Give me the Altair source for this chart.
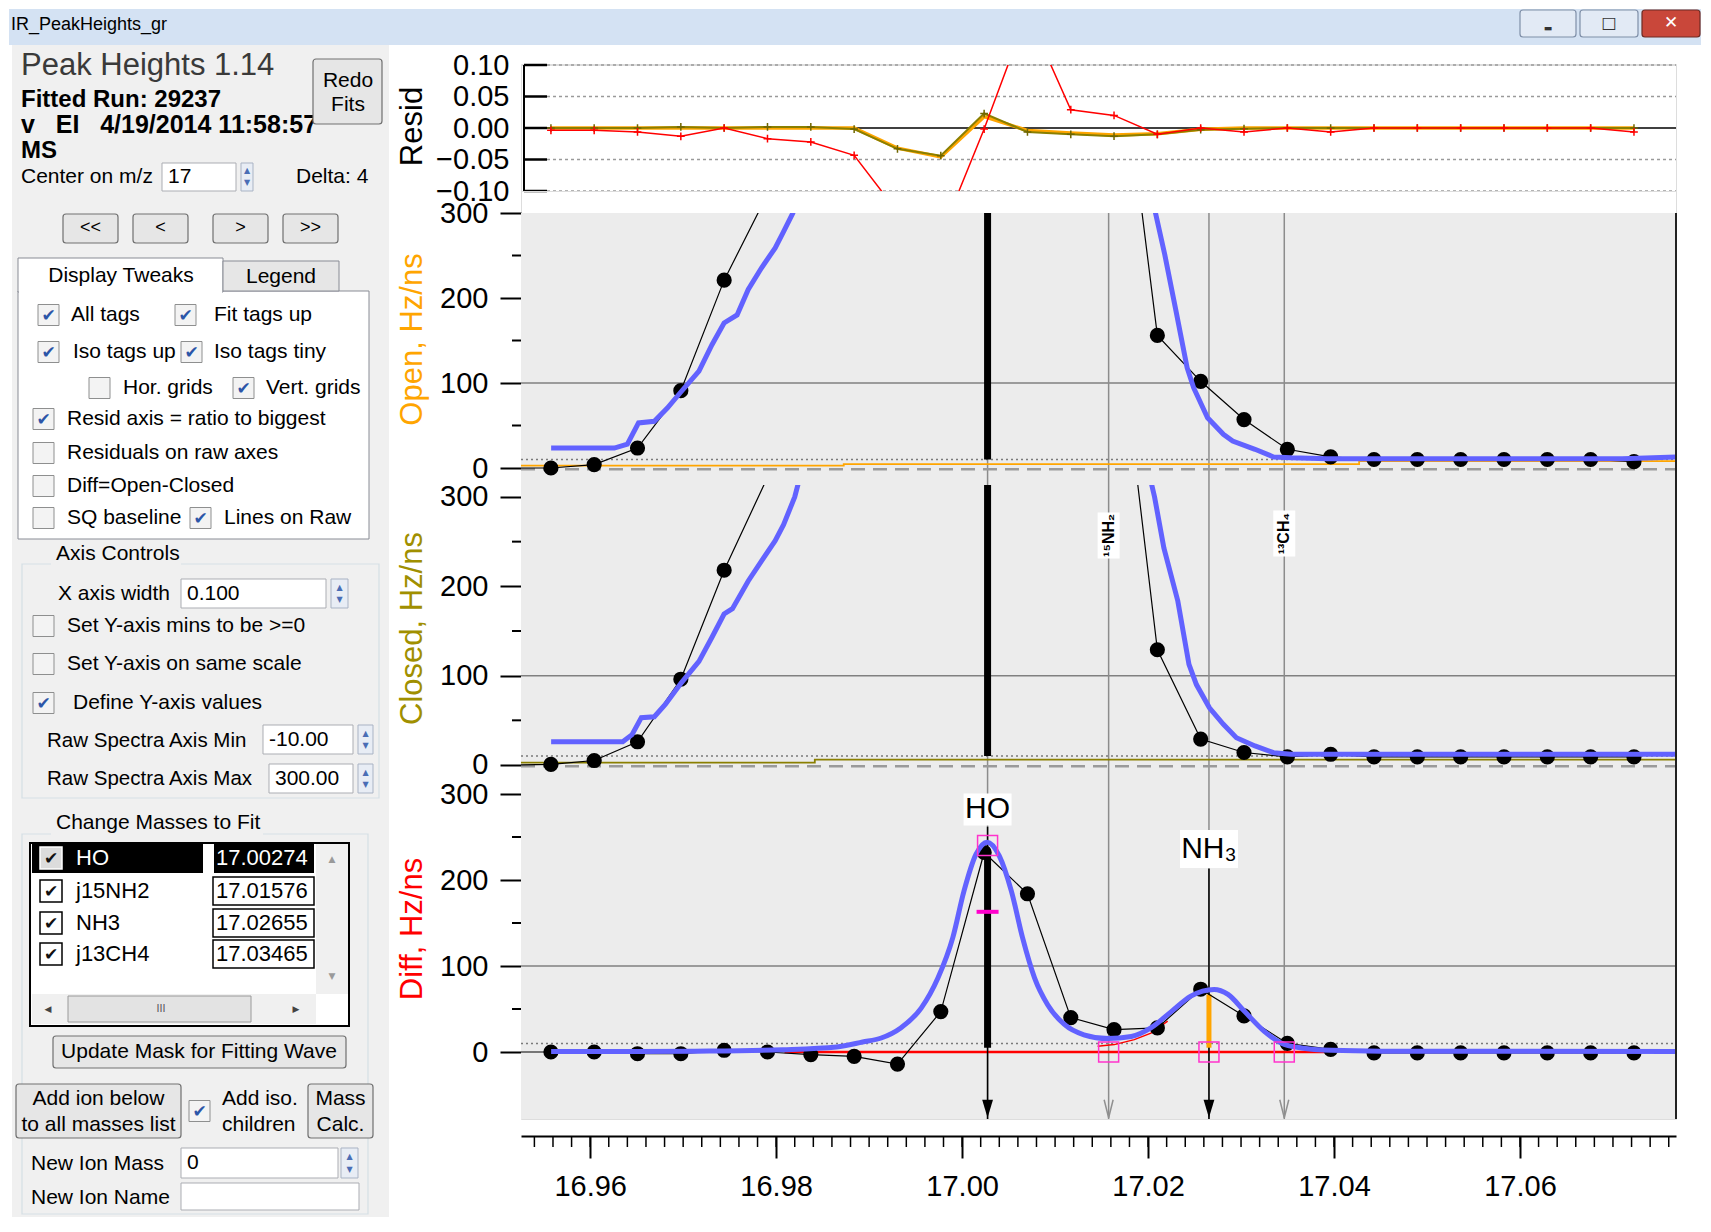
import altair as alt
import pandas as pd

FONT = "Liberation Sans"
GLYPH = "DejaVu Sans"

# ---------------- data ----------------
mz = [16.95578, 16.96043, 16.96509, 16.96975, 16.97441, 16.97907, 16.98373,
      16.98839, 16.99305, 16.99771, 17.00237, 17.00703, 17.01169, 17.01634,
      17.02100, 17.02566, 17.03032, 17.03498, 17.03964, 17.04430, 17.04896,
      17.05362, 17.05828, 17.06294, 17.06760, 17.07226]
mz_lead = 16.95112  # previous sample, just left of the window

open_raw = [0, 4, 23.5, 91, 221, 322, 700, 1400, 2200, 2600, 2700, 2300, 1300, 564,
            156, 102, 57, 22, 13, 10, 10, 10, 10, 10, 10, 7.5]
closed_raw = [0.7, 5, 26, 96, 218, 322, 703, 1405, 2214, 2553, 2468, 2116, 1260, 538,
              129, 29, 14, 9, 12, 9, 9, 9, 9, 9, 9, 9]
diff_raw = [0, 0, -2, -2, 2, 0, -3, -5, -14, 47, 232, 184, 40, 26,
            28, 73, 42, 10, 3, -1, -1, -1, -1, -1, -1, -1]

resid_diff = [-0.0037, -0.0037, -0.0063, -0.0132, 0.0, -0.0169, -0.0222, -0.0434, -0.133,
              -0.171, -0.0016, 0.183, 0.029, 0.020, -0.010, 0.0, -0.0063, 0.0, -0.0063,
              0.0, 0.0, 0.0, 0.0, 0.0, 0.0, -0.0063]
resid_closed = [0, 0, 0, 0.0016, 0, 0.0016, 0.0016, -0.0016, -0.033, -0.044, 0.023, -0.0063,
                -0.010, -0.013, -0.010, -0.0026, -0.001, 0, 0, 0, 0, 0, 0, 0, 0, 0]
resid_open = [0, 0, 0, 0, 0, 0, 0, 0, -0.032, -0.046, 0.018, -0.004, -0.008, -0.011,
              -0.009, -0.002, 0, 0, 0, 0, 0, 0, 0, 0, 0, 0]

open_fit_mz = [16.9558, 16.9626, 16.9640, 16.9652, 16.9669, 16.9683, 16.9698, 16.9717, 16.9731,
               16.9744, 16.9758, 16.9770, 16.9784, 16.9799, 16.9808, 16.9818, 16.9850, 16.9900,
               17.0000, 17.0100, 17.0180, 17.0208, 17.0218, 17.0230, 17.0242, 17.0249, 17.0264,
               17.0281, 17.0291, 17.0315, 17.0335, 17.0354, 17.0393, 17.0710, 17.0768]
open_fit = [23.5, 23.5, 28, 53, 55, 70.6, 90, 114, 145,
            170.6, 180, 210, 235, 259, 278, 300, 420, 900,
            2300, 1600, 420, 300, 251, 185, 118, 94.5, 59,
            39.6, 31.8, 22, 13, 12, 11, 11, 13]

closed_fit_mz = [16.9558, 16.9635, 16.9645, 16.9655, 16.9669, 16.9681, 16.9698, 16.9717, 16.9731,
                 16.9744, 16.9753, 16.9770, 16.9784, 16.9799, 16.9808, 16.9820, 16.9850, 16.9900,
                 17.0000, 17.0100, 17.0180, 17.0207, 17.0217, 17.0232, 17.0244, 17.0252, 17.0266,
                 17.0281, 17.0295, 17.0315, 17.0335, 17.0354, 17.0768]
closed_fit = [26, 26, 34, 53, 54, 68, 92, 116, 143,
              169, 175, 206, 228, 251, 269, 300, 420, 900,
              2300, 1600, 420, 300, 243, 183.6, 112.7, 90, 64,
              45.5, 30.6, 21.3, 13.8, 12, 12]

diff_fit_mz = [16.9558, 16.9650, 16.9712, 16.9807, 16.9865, 16.9893, 16.9913, 16.9934, 16.9956,
               16.9974, 16.9990, 17.0002, 17.0015, 17.0027, 17.0040, 17.0053, 17.0065, 17.0078,
               17.0092, 17.0110, 17.0131, 17.0157, 17.0182, 17.0203, 17.0225, 17.0246, 17.0271,
               17.0286, 17.0304, 17.0325, 17.0343, 17.0365, 17.0397, 17.0451, 17.0768]
diff_fit = [0.5, 0.5, 1, 2.7, 5.8, 11.6, 16.3, 28, 51,
            86, 133, 187, 230, 244, 228, 187, 133, 86,
            55, 32, 20, 15.6, 18, 28, 47, 65, 72.8,
            67, 47, 24, 10.5, 4.7, 2, 1, 0.5]

open_base_mz = [16.95256, 16.98727, 17.0427, 17.07678]
open_base = [2.7, 4.5, 8.0, 8.0]
closed_base_mz = [16.95256, 16.98416, 17.07678]
closed_base = [2.6, 6.0, 6.0]
dashed_level = -1.5
threshold = 10

red_base_mz = [16.9809, 17.0393]
red_base = [0, 0]
red_comp_mz = [17.01458, 17.01637, 17.01852, 17.02031, 17.02211]
red_comp = [6.6, 8.6, 14.4, 22, 36]

mass_mz = [17.00274, 17.01576, 17.02655, 17.03465]
mass_name = ["HO", "j15NH2", "NH3", "j13CH4"]
ho_mz, nh3_mz = 17.00274, 17.02655
iso_mz = [17.01576, 17.03465]
iso_tags = ["¹⁵NH₂", "¹³CH₄"]
iso_tag_y = [257, 259]
ho_fit_height = 235
nh3_fit_height = 67
ho_label_y = 282
nh3_label_y = 236
square_mz = [17.01576, 17.02655, 17.03465]
ho_square_y = 240
ho_dash_y = 163

x_major = [16.96, 16.98, 17.00, 17.02, 17.04, 17.06]
x_minor = [round(16.954 + 0.002 * i, 3) for i in range(62)]
y_major = [0, 100, 200, 300]
y_minor = [50, 150, 250]
resid_ticks = [-0.10, -0.05, 0.0, 0.05, 0.10]

# ---------------- layout ----------------
W = 1155
XS = alt.Scale(domain=[16.95256, 17.07678], nice=False, zero=False)
one = pd.DataFrame({"a": [0]})
BLUE = "#6262ff"


def ysc(dom):
    return alt.Scale(domain=dom, nice=False, zero=False)


def yaxis(title, color, ty, values, fmt=None, ticks=True):
    kw = dict(values=values, domain=False, grid=False, labelFont=FONT, labelFontSize=29,
              labelColor="black", labelFlush=False, labelOverlap=False,
              title=title, titleColor=color, titleFont=FONT, titleFontSize=31,
              titleFontWeight="normal", titleX=-100, titleY=ty, titleBaseline="alphabetic",
              titleAngle=270, titleAlign="center")
    if fmt:
        kw["format"] = fmt
    if ticks:
        kw.update(tickSize=21, tickWidth=2, tickColor="black", labelPadding=12)
    else:
        kw.update(ticks=False, tickSize=0, labelPadding=12)
    return alt.Axis(**kw)


# ---------------- resid panel ----------------
RH = 126
RY = alt.Y("v:Q", scale=ysc([-0.1, 0.1]),
           axis=yaxis("Resid", "black", 61, resid_ticks, fmt=".2f", ticks=False))
RX = alt.X("mz:Q", scale=XS, axis=None)
plus = "M-1,0L1,0M0,-1L0,1"

r_df = pd.DataFrame({"mz": mz, "red": resid_diff, "olive": resid_closed, "orange": resid_open})
resid = alt.layer(
    alt.Chart(pd.DataFrame({"v": [-0.1], "v2": [0.1]})).mark_rule(color="black", strokeWidth=2)
    .encode(x=alt.value(3), y=RY, y2="v2:Q"),
    alt.Chart(pd.DataFrame({"v": resid_ticks})).mark_rule(color="black", strokeWidth=2.5)
    .encode(x=alt.value(3), x2=alt.value(26), y=RY),
    alt.Chart(pd.DataFrame({"v": [-0.1, -0.05, 0.05, 0.1]}))
    .mark_rule(color="#9a9a9a", strokeWidth=1.5, strokeDash=[3, 3])
    .encode(x=alt.value(26), x2=alt.value(W), y=RY),
    alt.Chart(pd.DataFrame({"v": [0.0]})).mark_rule(color="black", strokeWidth=1.5)
    .encode(x=alt.value(3), x2=alt.value(W), y=RY),
    alt.Chart(r_df).transform_calculate(v="datum.orange")
    .mark_line(color="#ffa500", strokeWidth=3.5, clip=True).encode(x=RX, y=RY),
    alt.Chart(r_df).transform_calculate(v="datum.olive")
    .mark_line(color="#8a7f00", strokeWidth=2, clip=True).encode(x=RX, y=RY),
    alt.Chart(r_df).transform_calculate(v="datum.olive")
    .mark_point(shape=plus, size=60, strokeWidth=1.5, filled=False, color="#6f6600", opacity=1, clip=True)
    .encode(x=RX, y=RY),
    alt.Chart(r_df).transform_calculate(v="datum.red")
    .mark_line(color="#ff0000", strokeWidth=1.5, clip=True).encode(x=RX, y=RY),
    alt.Chart(r_df).transform_calculate(v="datum.red")
    .mark_point(shape=plus, size=60, strokeWidth=1.5, filled=False, color="#ff0000", opacity=1, clip=True)
    .encode(x=RX, y=RY),
).properties(width=W, height=RH)

spacer = alt.Chart(one).mark_point(opacity=0).encode(x=alt.value(0), y=alt.value(0)).properties(width=W, height=22)


# ---------------- gray panels ----------------
def common_layers(H, Yf, Xf):
    return [
        alt.Chart(one).mark_rect(color="#ececec")
        .encode(x=alt.value(0), x2=alt.value(W), y=alt.value(0), y2=alt.value(H)),
        alt.Chart(pd.DataFrame({"v": [100]})).mark_rule(color="#808080", strokeWidth=1.5)
        .encode(x=alt.value(0), x2=alt.value(W), y=Yf),
        alt.Chart(pd.DataFrame({"mz": mass_mz})).mark_rule(color="#8c8c8c", strokeWidth=1.5)
        .encode(x=Xf, y=alt.value(0), y2=alt.value(H)),
        alt.Chart(pd.DataFrame({"v": [threshold]}))
        .mark_rule(color="#7a7a7a", strokeWidth=1.5, strokeDash=[2, 3])
        .encode(x=alt.value(0), x2=alt.value(W), y=Yf),
    ]


def tail_layers(H, Yf):
    return [
        alt.Chart(pd.DataFrame({"v": y_minor})).mark_rule(color="black", strokeWidth=2)
        .encode(x=alt.value(-9), x2=alt.value(0), y=Yf),
        alt.Chart(one).mark_rule(color="#222222", strokeWidth=2)
        .encode(x=alt.value(W), y=alt.value(0), y2=alt.value(H)),
    ]


def raw_layers(raw, fit_mz, fit, Yf, Xf, interp):
    line_df = pd.DataFrame({"mz": [mz_lead] + mz, "v": [0] + raw})
    return [
        alt.Chart(line_df).mark_line(color="black", strokeWidth=1.2, clip=True).encode(x=Xf, y=Yf),
        alt.Chart(pd.DataFrame({"mz": mz, "v": raw}))
        .mark_circle(color="black", size=230, opacity=1, clip=True).encode(x=Xf, y=Yf),
        alt.Chart(pd.DataFrame({"mz": fit_mz, "v": fit}))
        .mark_line(color=BLUE, strokeWidth=5, clip=True, interpolate=interp).encode(x=Xf, y=Yf),
    ]


def raw_panel(H, dom, title, tcolor, ty, raw, fit_mz, fit, bmz, bval, bcolor, extra=None):
    Yf = alt.Y("v:Q", scale=ysc(dom), axis=yaxis(title, tcolor, ty, y_major))
    Xf = alt.X("mz:Q", scale=XS, axis=None)
    layers = common_layers(H, Yf, Xf)
    layers += [
        alt.Chart(pd.DataFrame({"v": [dashed_level]}))
        .mark_rule(color="#9a9a9a", strokeWidth=2.5, strokeDash=[14, 8])
        .encode(x=alt.value(0), x2=alt.value(W), y=Yf),
        alt.Chart(pd.DataFrame({"mz": bmz, "v": bval}))
        .mark_line(color=bcolor, strokeWidth=1.8, interpolate="step-after", clip=True).encode(x=Xf, y=Yf),
        alt.Chart(pd.DataFrame({"mz": [ho_mz], "v": [threshold], "v2": [3000]}))
        .mark_rule(color="black", strokeWidth=7, clip=True).encode(x=Xf, y=Yf, y2="v2:Q"),
    ]
    layers += raw_layers(raw, fit_mz, fit, Yf, Xf, "linear")
    if extra:
        layers += extra(Yf, Xf)
    layers += tail_layers(H, Yf)
    return alt.layer(*layers).properties(width=W, height=H)


def iso_tag_layers(Yf, Xf):
    df = pd.DataFrame({"mz": iso_mz, "v": iso_tag_y, "t": iso_tags})
    return [
        alt.Chart(df).mark_rect(color="white", xOffset=-11, x2Offset=11, yOffset=-23, y2Offset=23)
        .encode(x=Xf, x2="mz:Q", y=Yf, y2="v:Q"),
        alt.Chart(df).mark_text(angle=270, font=FONT, fontSize=16, fontWeight="bold", color="black")
        .encode(x=Xf, y=Yf, text="t:N"),
    ]


open_c = raw_panel(272, [-20, 300], "Open, Hz/ns", "#ffa500", 126, open_raw,
                   open_fit_mz, open_fit, open_base_mz, open_base, "#ffa500")
closed_c = raw_panel(298, [-20.15, 313.4], "Closed, Hz/ns", "#a08f00", 143, closed_raw,
                     closed_fit_mz, closed_fit, closed_base_mz, closed_base, "#8a7f00",
                     extra=iso_tag_layers)

# ---------------- diff panel ----------------
DH = 336
DY = alt.Y("v:Q", scale=ysc([-77.9, 312.8]), axis=yaxis("Diff, Hz/ns", "#ff0000", 145.5, y_major))
DX = alt.X("mz:Q", scale=XS, axis=alt.Axis(
    values=x_major, format=".2f", tickSize=22, tickWidth=2, tickColor="black",
    domainColor="black", domainWidth=2, offset=17, grid=False, labelFont=FONT,
    labelFontSize=29, labelColor="black", labelPadding=14, labelFlush=False, title=None))
arrow = "M-0.6,-1L0.6,-1L0,1Z"
varrow = "M-0.5,-1L0,1L0.5,-1"

d_layers = common_layers(DH, DY, DX)
d_layers += [
    alt.Chart(pd.DataFrame({"mz": red_base_mz, "v": red_base}))
    .mark_line(color="#ff0000", strokeWidth=2.5).encode(x=DX, y=DY),
    alt.Chart(pd.DataFrame({"mz": red_comp_mz, "v": red_comp}))
    .mark_line(color="#ff0000", strokeWidth=1.5).encode(x=DX, y=DY),
    alt.Chart(pd.DataFrame({"mz": [ho_mz, nh3_mz], "v": [ho_label_y - 20, nh3_label_y - 23], "v2": [-77.9, -77.9]}))
    .mark_rule(color="black", strokeWidth=1.5).encode(x=DX, y=DY, y2="v2:Q"),
    alt.Chart(pd.DataFrame({"mz": [ho_mz], "v": [5], "v2": [ho_fit_height]}))
    .mark_rule(color="black", strokeWidth=7).encode(x=DX, y=DY, y2="v2:Q"),
    alt.Chart(pd.DataFrame({"mz": [nh3_mz], "v": [5], "v2": [nh3_fit_height]}))
    .mark_rule(color="#ffa500", strokeWidth=5).encode(x=DX, y=DY, y2="v2:Q"),
]
d_layers += raw_layers(diff_raw, diff_fit_mz, diff_fit, DY, DX, "monotone")
d_layers += [
    alt.Chart(pd.DataFrame({"mz": square_mz + [ho_mz], "v": [0, 0, 0, ho_square_y]}))
    .mark_point(shape="square", size=400, filled=False, color="#ff33cc", strokeWidth=1.5, opacity=1)
    .encode(x=DX, y=DY),
    alt.Chart(pd.DataFrame({"mz": [ho_mz], "v": [ho_dash_y]}))
    .mark_tick(orient="horizontal", thickness=4, size=22, color="#ff00cc", opacity=1)
    .encode(x=DX, y=DY),
    alt.Chart(pd.DataFrame({"mz": [ho_mz, nh3_mz], "v": [-66, -66]}))
    .mark_point(shape=arrow, size=324, filled=True, color="black", opacity=1).encode(x=DX, y=DY),
    alt.Chart(pd.DataFrame({"mz": iso_mz, "v": [-66, -66]}))
    .mark_point(shape=varrow, size=324, filled=False, color="#909090", strokeWidth=1.5, opacity=1)
    .encode(x=DX, y=DY),
    alt.Chart(pd.DataFrame({"mz": [ho_mz], "v": [ho_label_y]}))
    .mark_rect(color="white", xOffset=-24, x2Offset=24, yOffset=-16, y2Offset=16)
    .encode(x=DX, x2="mz:Q", y=DY, y2="v:Q"),
    alt.Chart(pd.DataFrame({"mz": [nh3_mz], "v": [nh3_label_y]}))
    .mark_rect(color="white", xOffset=-29, x2Offset=29, yOffset=-19, y2Offset=19)
    .encode(x=DX, x2="mz:Q", y=DY, y2="v:Q"),
    alt.Chart(pd.DataFrame({"mz": [ho_mz, nh3_mz], "v": [ho_label_y, nh3_label_y], "t": ["HO", "NH₃"]}))
    .mark_text(font=FONT, fontSize=30, color="black", baseline="middle")
    .encode(x=DX, y=DY, text="t:N"),
    alt.Chart(pd.DataFrame({"mz": x_minor}))
    .mark_rule(color="black", strokeWidth=1.5)
    .encode(x=DX, y=alt.value(DH + 17), y2=alt.value(DH + 28)),
]
d_layers += tail_layers(DH, DY)
diff_c = alt.layer(*d_layers).properties(width=W, height=DH)

# ---------------- control panel (Igor window chrome) ----------------
UX, UY = 520, 63
ui_rects, ui_btns, t_left, t_bold, t_center, t_glyph = [], [], [], [], [], []


def rect(x1, y1, x2, y2, fill, stroke="transparent", sw=1.0):
    ui_rects.append(dict(x1=x1 - UX, y1=y1 - UY, x2=x2 - UX, y2=y2 - UY, fill=fill, stroke=stroke, sw=sw))


def btn(x1, y1, x2, y2, fill="#e6e6e6", stroke="#707070"):
    ui_btns.append(dict(x1=x1 - UX, y1=y1 - UY, x2=x2 - UX, y2=y2 - UY, fill=fill, stroke=stroke, sw=1.2))


def txt(lst, x, y, s, fs=21, col="#000000"):
    lst.append(dict(x=x - UX, y=y - UY, s=s, fs=fs, col=col))


def checkbox(x, cy, checked, size=21):
    rect(x, cy - size / 2, x + size, cy + size / 2, "#f3f3f3", "#8e8f8f", 1)
    if checked:
        txt(t_glyph, x + size / 2, cy + 1, "✔", 17, "#2c56a8")


def textbox(x1, y1, x2, y2, s=None):
    rect(x1, y1, x2, y2, "#ffffff", "#abadb3", 1)
    if s is not None:
        txt(t_left, x1 + 6, (y1 + y2) / 2, s, 21)


def spinner(x1, y1, x2, y2):
    rect(x1, y1, x2, y2, "#e8edf5", "#a9b3c4", 1)
    cx = (x1 + x2) / 2
    txt(t_glyph, cx, y1 + (y2 - y1) * 0.3, "▲", 8, "#4a6db5")
    txt(t_glyph, cx, y1 + (y2 - y1) * 0.72, "▼", 8, "#4a6db5")


NB = "\u00a0"

# title bar
rect(8, 8, 1700, 44, "#d4e2f3")
txt(t_left, 10, 24, "IR_PeakHeights_gr", 18)
btn(1519, 9, 1575, 36, "#e2eaf5", "#7f8fa8")
btn(1579, 9, 1637, 36, "#e2eaf5", "#7f8fa8")
btn(1641, 9, 1699, 36, "#c9473a", "#6e2a22")
txt(t_glyph, 1547, 27, "▬", 9, "#333333")
txt(t_glyph, 1608, 22, "□", 16, "#333333")
txt(t_glyph, 1670, 22, "✕", 17, "#ffffff")

# panel background
rect(11, 44, 388, 1216, "#f0f0f0")

txt(t_left, 20, 65, "Peak Heights 1.14", 31, "#3a3a3a")
txt(t_bold, 20, 99, "Fitted Run: 29237", 24)
txt(t_bold, 20, 124, "v" + NB * 3 + "EI" + NB * 3 + "4/19/2014" + NB + "11:58:57", 25)
txt(t_bold, 20, 150, "MS", 24)
txt(t_left, 20, 176, "Center on m/z", 21)
textbox(161, 162, 235, 190, "17")
spinner(240, 162, 252, 190)
txt(t_left, 295, 176, "Delta: 4", 21)
btn(312, 58, 381, 123)
txt(t_center, 347, 80, "Redo", 21)
txt(t_center, 347, 104, "Fits", 21)
for x1, x2, s in [(62, 117, "<<"), (132, 187, "<"), (212, 267, ">"), (282, 337, ">>")]:
    btn(x1, 213, x2, 242)
    txt(t_center, (x1 + x2) / 2, 227, s, 18)

# tabs
rect(17, 290, 368, 538, "#ffffff", "#898c95", 1)
rect(17, 257, 222, 291, "#ffffff", "#898c95", 1)
rect(18, 287, 221, 293, "#ffffff")
rect(222, 260, 338, 290, "#e6e6e6", "#898c95", 1)
txt(t_center, 120, 275, "Display Tweaks", 21)
txt(t_center, 280, 276, "Legend", 21)
checkbox(37, 314, True); txt(t_left, 70, 314, "All tags")
checkbox(174, 314, True); txt(t_left, 213, 314, "Fit tags up")
checkbox(37, 351, True); txt(t_left, 72, 351, "Iso tags up")
checkbox(180, 351, True); txt(t_left, 213, 351, "Iso tags tiny")
checkbox(88, 387, False); txt(t_left, 122, 387, "Hor. grids")
checkbox(232, 387, True); txt(t_left, 265, 387, "Vert. grids")
checkbox(32, 418, True); txt(t_left, 66, 418, "Resid axis = ratio to biggest")
checkbox(32, 452, False); txt(t_left, 66, 452, "Residuals on raw axes")
checkbox(32, 485, False); txt(t_left, 66, 485, "Diff=Open-Closed")
checkbox(32, 517, False); txt(t_left, 66, 517, "SQ baseline")
checkbox(189, 517, True); txt(t_left, 223, 517, "Lines on Raw")

# axis controls
rect(21, 563, 378, 797, "transparent", "#d5dfe5", 1.2)
rect(50, 558, 180, 568, "#f0f0f0")
txt(t_left, 55, 553, "Axis Controls")
txt(t_left, 57, 593, "X axis width")
textbox(180, 578, 325, 607, "0.100")
spinner(330, 578, 347, 607)
checkbox(32, 625, False); txt(t_left, 66, 625, "Set Y-axis mins to be >=0")
checkbox(32, 663, False); txt(t_left, 66, 663, "Set Y-axis on same scale")
checkbox(32, 702, True); txt(t_left, 72, 702, "Define Y-axis values")
txt(t_left, 46, 740, "Raw Spectra Axis Min", 20.5)
textbox(262, 724, 352, 753, "-10.00")
spinner(357, 724, 372, 753)
txt(t_left, 46, 778, "Raw Spectra Axis Max", 20.5)
textbox(268, 763, 352, 792, "300.00")
spinner(357, 763, 372, 792)

# masses list
rect(21, 833, 367, 1213, "transparent", "#d5dfe5", 1.2)
rect(50, 828, 262, 838, "#f0f0f0")
txt(t_left, 55, 822, "Change Masses to Fit")
rect(29, 842, 348, 1025, "#ffffff", "#000000", 2)
rect(31, 843, 202, 872, "#000000")
rect(213, 843, 313, 872, "#000000")
mass_vals = ["17.00274", "17.01576", "17.02655", "17.03465"]
for name, val, cy, sel in zip(mass_name, mass_vals, [857, 890, 922, 953], [True, False, False, False]):
    if sel:
        rect(39, cy - 11, 61, cy + 11, "#dcdcdc", "#ffffff", 1.5)
    else:
        rect(39, cy - 11, 61, cy + 11, "#ffffff", "#000000", 1.5)
        rect(212, cy - 14, 313, cy + 14, "#ffffff", "#000000", 1.5)
    txt(t_glyph, 50, cy + 1, "✔", 17, "#111111")
    txt(t_left, 75, cy, name, 22, "#ffffff" if sel else "#000000")
    txt(t_left, 215, cy, val, 22, "#ffffff" if sel else "#000000")
rect(315, 843, 347, 993, "#f0f0f0")
txt(t_glyph, 331, 858, "▲", 9, "#9a9a9a")
txt(t_glyph, 331, 975, "▼", 9, "#9a9a9a")
rect(31, 993, 315, 1023, "#f0f0f0")
rect(67, 995, 250, 1021, "#e3e3e3", "#9a9a9a", 1)
txt(t_glyph, 47, 1008, "◀", 9, "#444444")
txt(t_glyph, 160, 1008, "III", 10, "#555555")
txt(t_glyph, 295, 1008, "▶", 9, "#444444")

btn(52, 1035, 345, 1067)
txt(t_center, 198, 1051, "Update Mask for Fitting Wave", 21)
btn(15, 1083, 180, 1137)
txt(t_center, 97.5, 1098, "Add ion below", 21)
txt(t_center, 97.5, 1124, "to all masses list", 21)
checkbox(188, 1110, True)
txt(t_left, 221, 1098, "Add iso.")
txt(t_left, 221, 1124, "children")
btn(307, 1083, 372, 1137)
txt(t_center, 339.5, 1098, "Mass", 21)
txt(t_center, 339.5, 1124, "Calc.", 21)
txt(t_left, 30, 1163, "New Ion Mass")
textbox(180, 1147, 337, 1177, "0")
spinner(340, 1147, 357, 1177)
txt(t_left, 30, 1197, "New Ion Name")
textbox(180, 1182, 358, 1209)


def ui_rect_layer(rows, radius=0):
    return alt.Chart(pd.DataFrame(rows)).mark_rect(cornerRadius=radius).encode(
        x=alt.X("x1:Q", scale=None, axis=None), x2="x2:Q",
        y=alt.Y("y1:Q", scale=None, axis=None), y2="y2:Q",
        fill=alt.Fill("fill:N", scale=None), stroke=alt.Stroke("stroke:N", scale=None),
        strokeWidth=alt.StrokeWidth("sw:Q", scale=None))


def ui_text_layer(rows, align="left", weight="normal", font=FONT):
    return alt.Chart(pd.DataFrame(rows)).mark_text(
        align=align, baseline="middle", font=font, fontWeight=weight).encode(
        x=alt.X("x:Q", scale=None, axis=None), y=alt.Y("y:Q", scale=None, axis=None),
        text="s:N", color=alt.Color("col:N", scale=None), size=alt.Size("fs:Q", scale=None))


ui = alt.layer(
    ui_rect_layer(ui_rects),
    ui_text_layer(t_left),
    ui_text_layer(t_bold, weight="bold"),
    ui_rect_layer(ui_btns, radius=3),
    ui_text_layer(t_center, align="center"),
    ui_text_layer(t_glyph, align="center", font=GLYPH),
).properties(width=W, height=1)

chart = alt.vconcat(ui, resid, spacer, open_c, closed_c, diff_c, spacing=0, bounds="flush") \
    .properties(padding=0) \
    .configure_view(strokeWidth=0) \
    .configure(font=FONT)

chart.save("out.html", embed_options={"renderer": "svg", "actions": False})
